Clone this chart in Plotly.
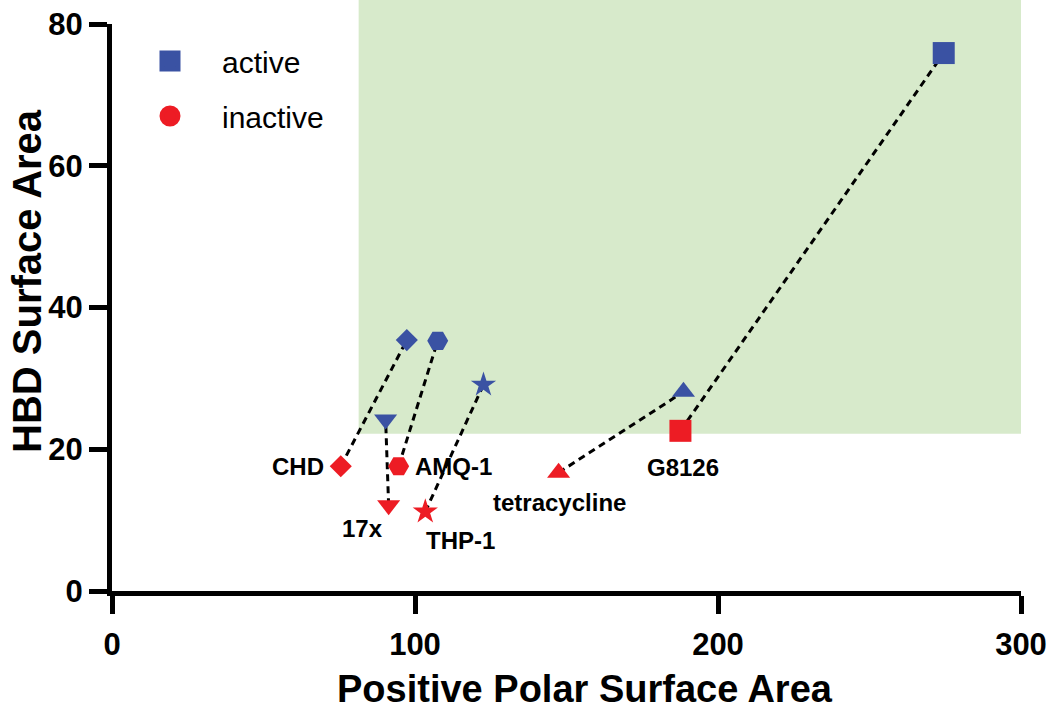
import plotly.graph_objects as go

# ---- data ----
compounds = ["CHD", "17x", "AMQ-1", "THP-1", "tetracycline", "G8126"]
symbols = ["diamond", "triangle-down", "hexagon2", "star", "triangle-up", "square"]
active_x = [97.3, 90.3, 107.5, 122.6, 188.6, 274.5]
active_y = [35.4, 24.2, 35.3, 29.1, 28.1, 75.9]
inactive_x = [75.5, 91.3, 94.6, 103.4, 147.4, 187.6]
inactive_y = [17.6, 12.1, 17.6, 11.2, 16.7, 22.6]
x_ticks = [0, 100, 200, 300]
y_ticks = [0, 20, 40, 60, 80]
x_title = "Positive Polar Surface Area"
y_title = "HBD Surface Area"
region_x0, region_y0 = 81.4, 22.2   # lower-left corner of the shaded region
X_MAX, Y_MAX = 300, 80

# ---- styles ----
BLUE = "#3a52a3"
RED = "#ed1c24"
GREEN = "#d7eacb"
FONT = "Arial"
size_by_symbol = {"diamond": 17, "triangle-down": 20, "hexagon2": 21,
                  "star": 19, "triangle-up": 20, "square": 22}
# label placement: (xanchor, xshift, yshift)
label_pos = {"CHD": ("right", -15, 0), "17x": ("right", -4, -23),
             "AMQ-1": ("left", 14, 0), "THP-1": ("left", -1, -29),
             "tetracycline": ("center", 1, -30), "G8126": ("center", 3, -37)}

W, H = 1050, 711
ML, MR, MT, MB = 112, 29, 24, 120
PW, PH = W - ML - MR, H - MT - MB

fig = go.Figure()

# dashed connectors
lx, ly = [], []
for ax_, ay_, ix_, iy_ in zip(active_x, active_y, inactive_x, inactive_y):
    lx += [ix_, ax_, None]
    ly += [iy_, ay_, None]
fig.add_trace(go.Scatter(x=lx, y=ly, mode="lines", showlegend=False, hoverinfo="skip",
                         line=dict(color="black", width=3, dash="7px,5px")))

sizes = [size_by_symbol[s] for s in symbols]
fig.add_trace(go.Scatter(x=active_x, y=active_y, mode="markers", showlegend=False,
                         text=compounds, name="active",
                         marker=dict(symbol=symbols, size=sizes, color=BLUE, opacity=1,
                                     line=dict(width=0))))
fig.add_trace(go.Scatter(x=inactive_x, y=inactive_y, mode="markers", showlegend=False,
                         text=compounds, name="inactive",
                         marker=dict(symbol=symbols, size=sizes, color=RED, opacity=1,
                                     line=dict(width=0))))

# legend entries
fig.add_trace(go.Scatter(x=[None], y=[None], mode="markers", name="active", legend="legend",
                         marker=dict(symbol="square", size=16, color=BLUE,
                                     line=dict(color=BLUE, width=5))))
fig.add_trace(go.Scatter(x=[None], y=[None], mode="markers", name="inactive", legend="legend2",
                         marker=dict(symbol="circle", size=16, color=RED,
                                     line=dict(color=RED, width=5))))

# labels
for name, x, y in zip(compounds, inactive_x, inactive_y):
    anc, xs, ys = label_pos[name]
    fig.add_annotation(x=x, y=y, text=name, showarrow=False, xanchor=anc, yanchor="middle",
                       xshift=xs, yshift=ys,
                       font=dict(family=FONT, size=24, color="black", weight="bold"))

# axis titles
fig.add_annotation(text=x_title, xref="paper", yref="paper", showarrow=False,
                   x=(585 - ML) / PW, y=(MT + PH - 689) / PH, xanchor="center", yanchor="middle",
                   font=dict(family=FONT, size=38, color="black", weight="bold"))
fig.add_annotation(text=y_title, xref="paper", yref="paper", showarrow=False, textangle=-90,
                   x=(27 - ML) / PW, y=(MT + PH - 281) / PH, xanchor="center", yanchor="middle",
                   font=dict(family=FONT, size=40, color="black", weight="bold"))

# shaded region
fig.add_shape(type="rect", xref="paper", yref="paper",
              x0=region_x0 / X_MAX, x1=1.0, y0=region_y0 / Y_MAX, y1=1.2,
              fillcolor=GREEN, line=dict(width=0), layer="below")

axis_common = dict(showline=True, linewidth=5, linecolor="black", ticks="outside",
                   ticklen=18, tickwidth=5, tickcolor="black", showgrid=False,
                   zeroline=False, ticklabeloverflow="allow",
                   tickfont=dict(family=FONT, size=31, color="black", weight="bold"))
fig.update_xaxes(range=[0, X_MAX], tickvals=x_ticks, ticklabelstandoff=4, **axis_common)
fig.update_yaxes(range=[0, Y_MAX], tickvals=y_ticks, ticklabelstandoff=0, **axis_common)

legend_common = dict(xref="container", yref="container", xanchor="left", yanchor="middle",
                     font=dict(family=FONT, size=30, color="black"), itemwidth=94,
                     bgcolor="rgba(0,0,0,0)", borderwidth=0)
fig.update_layout(
    width=W, height=H,
    margin=dict(l=ML, r=MR, t=MT, b=MB, autoexpand=False),
    plot_bgcolor="white", paper_bgcolor="white",
    legend=dict(x=118 / W, y=1 - 61 / H, **legend_common),
    legend2=dict(x=118 / W, y=1 - 116 / H, **legend_common),
)

# remove the browser's default 8px page margin so the figure fills the window
fig.write_html("out.html", config={"displayModeBar": False},
               post_script="document.body.style.margin='0';document.body.style.overflow='hidden';")
